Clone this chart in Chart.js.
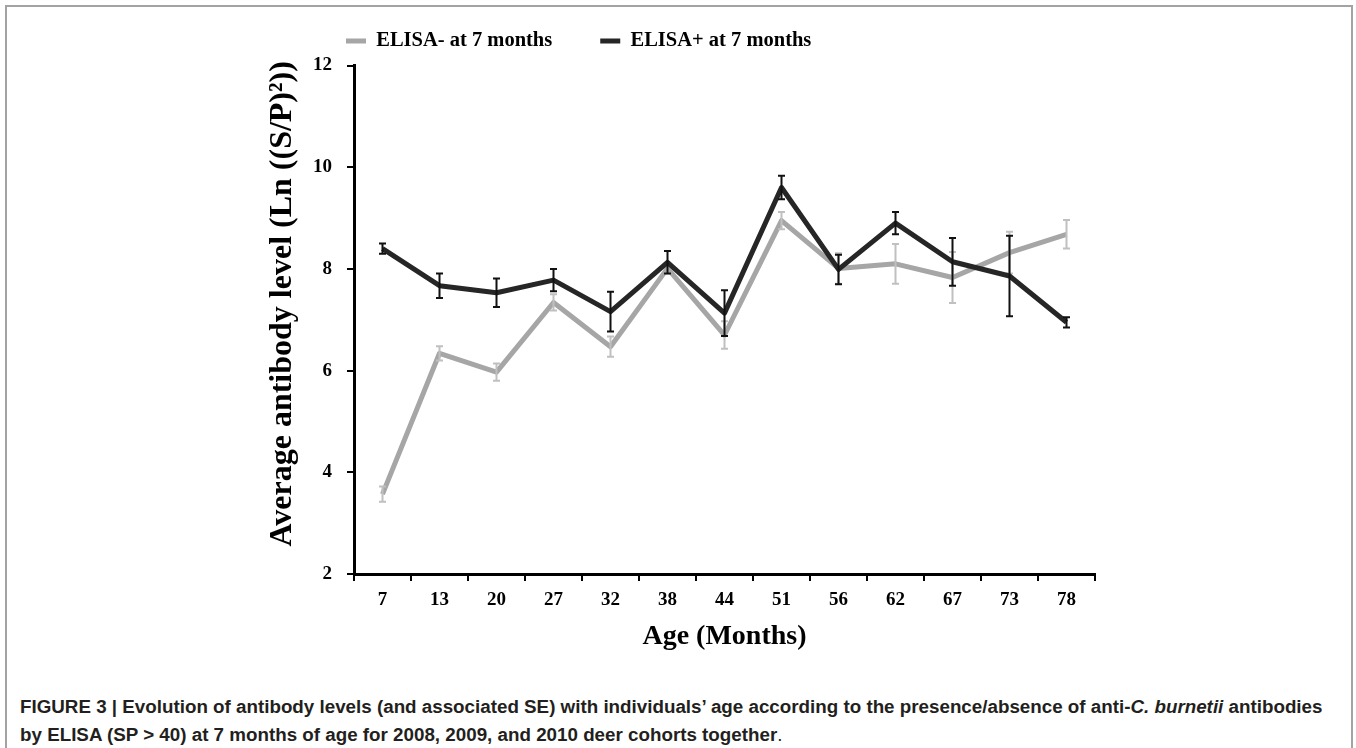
<!DOCTYPE html>
<html>
<head>
<meta charset="utf-8">
<script src="https://cdn.jsdelivr.net/npm/chart.js@4.4.1/dist/chart.umd.min.js"></script>
<style>
html,body{margin:0;padding:0;background:#fff;width:1356px;height:748px;overflow:hidden;}
#frame{position:absolute;left:5px;top:5px;width:1344px;height:800px;border:2px solid #a3a3a3;border-bottom:none;}
#wrap{position:absolute;left:0;top:0;width:1356px;height:660px;}
#caption{position:absolute;left:20px;top:693px;font-family:"Liberation Sans",Arial,sans-serif;font-size:18.8px;line-height:28px;color:#231f20;white-space:nowrap;}
#caption b{font-weight:bold;}
</style>
</head>
<body>
<div id="frame"></div>
<div id="wrap"><canvas id="c" width="1356" height="660"></canvas></div>
<div id="caption"><b>FIGURE 3 | Evolution of antibody levels (and associated SE) with individuals’ age according to the presence/absence of anti-<i>C. burnetii</i> antibodies<br>by ELISA (SP &gt; 40) at 7 months of age for 2008, 2009, and 2010 deer cohorts together</b>.</div>
<script>
// ---- data ----
const ageLabels = ['7','13','20','27','32','38','44','51','56','62','67','73','78'];
const seriesNames = ['ELISA- at 7 months', 'ELISA+ at 7 months'];
const elisaNeg   = [3.57, 6.34, 5.97, 7.34, 6.47, 8.01, 6.70, 8.95, 8.01, 8.10, 7.83, 8.32, 8.68];
const elisaNegSE = [0.15, 0.14, 0.17, 0.16, 0.20, 0.10, 0.27, 0.17, 0.30, 0.39, 0.50, 0.41, 0.28];
const elisaPos   = [8.40, 7.67, 7.53, 7.78, 7.16, 8.13, 7.13, 9.60, 7.99, 8.90, 8.14, 7.86, 6.95];
const elisaPosSE = [0.10, 0.24, 0.28, 0.22, 0.39, 0.22, 0.45, 0.23, 0.29, 0.22, 0.47, 0.79, 0.10];
const yTicks = [2, 4, 6, 8, 10, 12];

const serif = '"Liberation Serif","Times New Roman",serif';

const errorBars = {
  id: 'errorBars',
  afterDatasetDraw(chart, args) {
    const ds = chart.data.datasets[args.index];
    if (!ds.se) return;
    const ctx = chart.ctx, ys = chart.scales.y;
    ctx.save();
    ctx.strokeStyle = ds.errColor;
    ctx.lineWidth = 2;
    args.meta.data.forEach((pt, i) => {
      const v = ds.data[i], e = ds.se[i];
      const y1 = ys.getPixelForValue(v + e), y2 = ys.getPixelForValue(v - e);
      ctx.beginPath();
      ctx.moveTo(pt.x, y1); ctx.lineTo(pt.x, y2);
      ctx.moveTo(pt.x - 3.5, y1); ctx.lineTo(pt.x + 3.5, y1);
      ctx.moveTo(pt.x - 3.5, y2); ctx.lineTo(pt.x + 3.5, y2);
      ctx.stroke();
    });
    ctx.restore();
  }
};

const LEG_PAD = 48, LEG_FONT = 20.5;
const legendPos = {
  id: 'legendPos',
  afterLayout(chart) {
    const lg = chart.legend;
    if (!lg) return;
    const dx = (346 - LEG_PAD) - lg.left;
    const dy = (41 - LEG_PAD - LEG_FONT / 2) - lg.top;
    lg.left += dx; lg.right += dx; lg.top += dy; lg.bottom += dy;
  }
};

new Chart(document.getElementById('c'), {
  type: 'line',
  data: {
    labels: ageLabels,
    datasets: [
      { label: seriesNames[0], data: elisaNeg, se: elisaNegSE, errColor: '#c0c0c0',
        borderColor: '#a6a6a6', backgroundColor: '#a6a6a6', borderWidth: 5,
        pointRadius: 0, tension: 0, borderJoinStyle: 'round', order: 1 },
      { label: seriesNames[1], data: elisaPos, se: elisaPosSE, errColor: '#111111',
        borderColor: '#262626', backgroundColor: '#262626', borderWidth: 5,
        pointRadius: 0, tension: 0, borderJoinStyle: 'round', order: 0 }
    ]
  },
  options: {
    responsive: false,
    animation: false,
    devicePixelRatio: 1,
    layout: { padding: { left: 264, right: 261, top: 0, bottom: 6 } },
    plugins: {
      tooltip: { enabled: false },
      legend: {
        position: 'top', align: 'start', maxHeight: 65.5,
        labels: {
          usePointStyle: true, pointStyle: 'line', pointStyleWidth: 20,
          padding: LEG_PAD, color: '#000',
          font: { family: serif, weight: 'bold', size: LEG_FONT },
          sort: (a, b) => a.datasetIndex - b.datasetIndex
        }
      }
    },
    scales: {
      x: {
        type: 'category', offset: true,
        grid: { display: true, drawOnChartArea: false, drawTicks: true, tickLength: 7,
                color: '#000', lineWidth: 2, offset: true },
        border: { display: true, color: '#000', width: 3 },
        ticks: { color: '#000', font: { family: serif, weight: 'bold', size: 19 },
                 padding: 8, autoSkip: false, maxRotation: 0 },
        title: { display: true, text: 'Age (Months)', color: '#000',
                 font: { family: serif, weight: 'bold', size: 28 }, padding: { top: 0, bottom: 0 } },
        afterFit(s) { s.height = 80; }
      },
      y: {
        min: 2, max: 12,
        afterBuildTicks(s) { s.ticks = yTicks.map(v => ({ value: v })); },
        grid: { display: true, drawOnChartArea: false, drawTicks: true, tickLength: 7,
                color: '#000', lineWidth: 2 },
        border: { display: true, color: '#000', width: 3 },
        ticks: { color: '#000', font: { family: serif, weight: 'bold', size: 19 }, padding: 15 },
        title: { display: true, text: '    Average antibody level (Ln ((S/P)²))', color: '#000',
                 font: { family: serif, weight: 'bold', size: 32 }, padding: { top: 0, bottom: 0 } },
        afterFit(s) { s.width = 90; }
      }
    }
  },
  plugins: [errorBars, legendPos]
});
</script>
</body>
</html>
